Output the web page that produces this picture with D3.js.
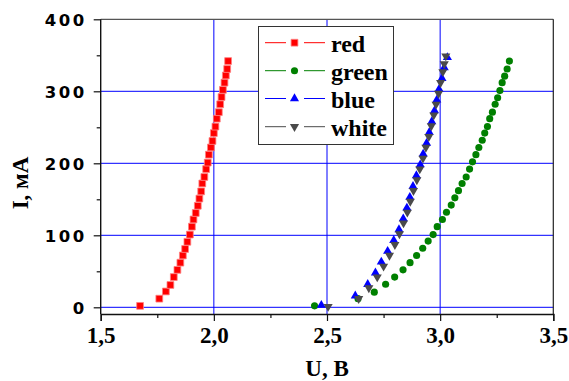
<!DOCTYPE html>
<html>
<head>
<meta charset="utf-8">
<script src="https://cdn.jsdelivr.net/npm/d3@7"></script>
<style>
  html, body { margin: 0; padding: 0; background: #fff; }
  svg { display: block; }
  .serif { font-family: "Liberation Serif", "Times New Roman", Times, serif; font-weight: bold; }
  .sans { font-family: "DejaVu Sans", Verdana, sans-serif; font-weight: bold; }
</style>
</head>
<body>
<svg id="chart" width="569" height="381"></svg>
<script>
// LED current–voltage characteristics
const seriesNames = ["red", "green", "blue", "white"];
const seriesColors = ["#ff0000", "#008000", "#0000ff", "#4a4a4a"];

const redU = [1.674, 1.759, 1.788, 1.808, 1.823, 1.839, 1.852, 1.863, 1.873, 1.883,
              1.894, 1.903, 1.910, 1.920, 1.929, 1.936, 1.944, 1.949, 1.958, 1.966,
              1.973, 1.978, 1.987, 1.994, 2.000, 2.007, 2.013, 2.022, 2.028, 2.034,
              2.040, 2.047, 2.053, 2.059, 2.063];
const redI = [2, 12, 22, 31, 42, 52, 62, 72, 81, 91,
              101, 112, 122, 131, 141, 151, 161, 172, 181, 192,
              201, 212, 222, 231, 242, 251, 262, 271, 282, 292,
              302, 312, 322, 331, 342];

const greenU = [2.445, 2.637, 2.709, 2.759, 2.799, 2.836, 2.867, 2.896, 2.923, 2.947,
                2.969, 2.987, 3.010, 3.028, 3.049, 3.065, 3.081, 3.097, 3.115, 3.130,
                3.143, 3.158, 3.171, 3.186, 3.197, 3.209, 3.219, 3.231, 3.243, 3.254,
                3.264, 3.274, 3.285, 3.296, 3.306];
const greenI = [2, 12, 21, 32, 42, 52, 62, 72, 82, 92,
                101, 112, 122, 132, 142, 152, 162, 172, 181, 192,
                202, 212, 222, 232, 242, 251, 262, 271, 282, 291,
                301, 312, 321, 331, 342];

const blueU = [2.475, 2.625, 2.680, 2.714, 2.740, 2.768, 2.795, 2.818, 2.837, 2.853,
               2.866, 2.880, 2.895, 2.912, 2.925, 2.940, 2.952, 2.963, 2.975, 2.985,
               2.995, 3.008, 3.018, 3.032];
const blueI = [3, 16, 32, 48, 63, 78, 93, 108, 123, 138,
               153, 168, 183, 198, 213, 228, 243, 258, 273, 288,
               303, 318, 333, 347];

const whiteU = [2.505, 2.640, 2.685, 2.722, 2.750, 2.776, 2.800, 2.820, 2.838, 2.855,
                2.868, 2.882, 2.897, 2.910, 2.924, 2.937, 2.950, 2.961, 2.972, 2.982,
                2.993, 3.002, 3.012, 3.018, 3.025];
const whiteI = [1, 12, 27, 42, 57, 72, 87, 102, 117, 132,
                147, 162, 177, 192, 207, 222, 237, 252, 267, 282,
                297, 312, 327, 338, 349];

const xMajor = [1.5, 2.0, 2.5, 3.0, 3.5];
const xMajorLabels = ["1,5", "2,0", "2,5", "3,0", "3,5"];
const xMinor = [1.75, 2.25, 2.75, 3.25];
const yMajor = [0, 100, 200, 300, 400];
const yMajorLabels = ["0", "100", "200", "300", "400"];
const yMinor = [50, 150, 250, 350];
const xGrid = [2.0, 2.5, 3.0];
const yGrid = [0, 100, 200, 300];

const xTitle = "U, B";
const yTitle = "I, мА";

const svg = d3.select("#chart");
const plotL = 100.7, plotR = 553.3, plotT = 19.3, plotB = 314;

const x = d3.scaleLinear().domain([1.5, 3.5]).range([plotL, plotR]);
const y = d3.scaleLinear().domain([-9.3, 400]).range([plotB, plotT]);

// grid
const grid = svg.append("g");
grid.selectAll("line.h").data(yGrid).join("line")
  .attr("x1", plotL).attr("x2", plotR)
  .attr("y1", d => y(d)).attr("y2", d => y(d))
  .attr("stroke", "#0000ff").attr("stroke-width", 1);
grid.selectAll("line.v").data(xGrid).join("line")
  .attr("x1", d => x(d)).attr("x2", d => x(d))
  .attr("y1", plotT).attr("y2", plotB)
  .attr("stroke", "#0000ff").attr("stroke-width", 1);

// frame
svg.append("line").attr("x1", plotL).attr("x2", plotR).attr("y1", plotT).attr("y2", plotT)
  .attr("stroke", "#555").attr("stroke-width", 1.2);
svg.append("line").attr("x1", plotR).attr("x2", plotR).attr("y1", plotT).attr("y2", plotB)
  .attr("stroke", "#222").attr("stroke-width", 1.2);

// axes
const xAxis = d3.axisBottom(x).tickValues(xMajor).tickSize(7)
  .tickFormat((d, i) => xMajorLabels[i]);
const gx = svg.append("g").attr("transform", `translate(0,${plotB})`).call(xAxis)
  .attr("font-family", null).attr("font-size", null);
gx.select(".domain").attr("stroke", "#111").attr("stroke-width", 1.4);
gx.selectAll(".tick line").attr("stroke", "#111").attr("stroke-width", 1.2);
gx.selectAll(".tick text")
  .attr("class", "serif")
  .style("font-size", "23px").attr("fill", "#000")
  .attr("dy", null).attr("y", 28.7);
svg.append("g").attr("transform", `translate(0,${plotB})`)
  .call(d3.axisBottom(x).tickValues(xMinor).tickSize(4).tickFormat(""))
  .call(g => g.select(".domain").remove())
  .selectAll(".tick line").attr("stroke", "#111").attr("stroke-width", 1.2);

const yAxis = d3.axisLeft(y).tickValues(yMajor).tickSize(7)
  .tickFormat((d, i) => yMajorLabels[i]);
const gy = svg.append("g").attr("transform", `translate(${plotL},0)`).call(yAxis)
  .attr("font-family", null).attr("font-size", null);
gy.select(".domain").attr("stroke", "#111").attr("stroke-width", 1.4)
  .attr("d", `M0,${plotT}V${plotB}`);
gy.selectAll(".tick line").attr("stroke", "#111").attr("stroke-width", 1.2);
gy.selectAll(".tick text")
  .attr("class", "sans")
  .style("font-size", "16.5px").style("letter-spacing", "2.5px").attr("fill", "#000")
  .attr("x", -14).attr("dy", "0.36em");
svg.append("g").attr("transform", `translate(${plotL},0)`)
  .call(d3.axisLeft(y).tickValues(yMinor).tickSize(4).tickFormat(""))
  .call(g => g.select(".domain").remove())
  .selectAll(".tick line").attr("stroke", "#111").attr("stroke-width", 1.2);

// titles
svg.append("text").attr("class", "serif").attr("x", 327).attr("y", 376)
  .attr("text-anchor", "middle").style("font-size", "23px").text(xTitle);
svg.append("text").attr("class", "serif").attr("transform", "translate(28,183) rotate(-90)")
  .attr("text-anchor", "middle").style("font-size", "23px").text(yTitle);

// markers
const symbols = [
  d3.symbol().type(d3.symbolSquare).size(46),
  d3.symbol().type(d3.symbolCircle).size(40),
  d3.symbol().type(d3.symbolTriangle).size(36),
  d3.symbol().type(d3.symbolTriangle).size(36)
];
const rotations = [0, 0, 0, 180];

const series = [
  redU.map((u, i) => ({ u, i: redI[i] })),
  greenU.map((u, i) => ({ u, i: greenI[i] })),
  blueU.map((u, i) => ({ u, i: blueI[i] })),
  whiteU.map((u, i) => ({ u, i: whiteI[i] }))
];

const plot = svg.append("g");
series.forEach((pts, k) => {
  plot.append("g").selectAll("path").data(pts).join("path")
    .attr("d", symbols[k]())
    .attr("transform", d => `translate(${x(d.u)},${y(d.i)}) rotate(${rotations[k]})`)
    .attr("fill", seriesColors[k])
    .attr("stroke", k === 0 ? "#ff8080" : "none")
    .attr("stroke-width", 0.8);
});

// legend
const lg = svg.append("g");
lg.append("rect").attr("x", 258.5).attr("y", 26.5).attr("width", 135).attr("height", 118)
  .attr("fill", "#fff").attr("stroke", "#333").attr("stroke-width", 1);
const rowY = [42.7, 70.7, 98.5, 126.7];
seriesNames.forEach((name, k) => {
  const cy = rowY[k];
  lg.append("line").attr("x1", 265).attr("x2", 286).attr("y1", cy).attr("y2", cy)
    .attr("stroke", seriesColors[k]).attr("stroke-width", 1);
  lg.append("line").attr("x1", 304).attr("x2", 325).attr("y1", cy).attr("y2", cy)
    .attr("stroke", seriesColors[k]).attr("stroke-width", 1);
  lg.append("path").attr("d", symbols[k]())
    .attr("transform", `translate(294.5,${cy}) rotate(${rotations[k]})`)
    .attr("fill", seriesColors[k])
    .attr("stroke", k === 0 ? "#ff8080" : "none").attr("stroke-width", 0.8);
  lg.append("text").attr("class", "serif").attr("x", 331).attr("y", cy + 9)
    .style("font-size", "24px").text(name);
});
</script>
</body>
</html>
